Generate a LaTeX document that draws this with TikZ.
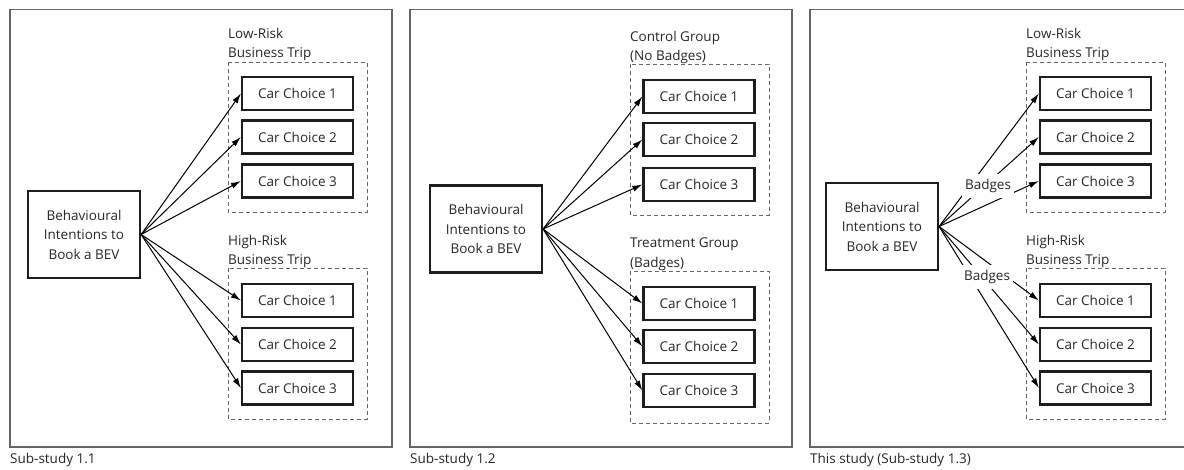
\documentclass[tikz,border=0pt]{standalone}
\usepackage{fontspec}
\setmainfont{Open Sans}
\usetikzlibrary{arrows.meta}
\definecolor{txt}{HTML}{262626}
\definecolor{strk}{HTML}{1E1E1E}
\definecolor{frame}{HTML}{666666}
\definecolor{dash}{HTML}{666666}
\begin{document}
\begin{tikzpicture}[x=1pt,y=-1pt,
  every node/.style={text=txt,font=\fontsize{13.5}{19.5}\selectfont},
  choice/.style={draw=strk,line width=2.2pt,minimum width=111pt,minimum height=33pt,inner sep=0pt},
  intent/.style={draw=strk,line width=2.2pt,minimum width=112pt,minimum height=87pt,align=center,inner sep=0pt},
  panel/.style={draw=frame,line width=1.2pt},
  group/.style={draw=dash,line width=0.9pt,dash pattern=on 4pt off 3pt},
  grouplabel/.style={anchor=north west,align=left,inner sep=0pt},
  caption/.style={anchor=base west,inner sep=0pt},
  link/.style={draw=black,line width=1pt,-{Latex[length=10pt,width=6pt]}},
  badge/.style={fill=white,inner xsep=3pt,inner ysep=5.5pt}]
\useasboundingbox (0,0) rectangle (1184,469);

% ---------- panel frames ----------
\draw[panel] (10,9.5) rectangle (392,447);
\draw[panel] (410,9.5) rectangle (792,447);
\draw[panel] (810,9.5) rectangle (1192,447);

\node[caption] (cap1) at (10,463) {Sub-study 1.1};
\node[caption] (cap2) at (410,463) {Sub-study 1.2};
\node[caption] (cap3) at (810,463) {This study (Sub-study 1.3)};

% ---------- Sub-study 1.1 ----------
\draw[group] (228,62) rectangle (367,212);
\draw[group] (228,268) rectangle (367,419);
\node[grouplabel] (g1a) at (228,28) {Low-Risk\\Business Trip};
\node[grouplabel] (g1b) at (228,235) {High-Risk\\Business Trip};
\node[intent] (bev1) at (84,234.5) {Behavioural\\Intentions to\\Book a BEV};
\node[choice] (a1) at (297.5,93.5) {Car Choice 1};
\node[choice] (a2) at (297.5,137) {Car Choice 2};
\node[choice] (a3) at (297.5,181) {Car Choice 3};
\node[choice] (b1) at (297.5,300.5) {Car Choice 1};
\node[choice] (b2) at (297.5,344.5) {Car Choice 2};
\node[choice] (b3) at (297.5,388) {Car Choice 3};
\foreach \t in {a1,a2,a3,b1,b2,b3} \draw[link] (bev1.east) -- (\t.west);

% ---------- Sub-study 1.2 ----------
\draw[group] (630,64) rectangle (769,215);
\draw[group] (630,271) rectangle (769,423);
\node[grouplabel] (g2a) at (630,31) {Control Group\\(No Badges)};
\node[grouplabel] (g2b) at (630,238) {Treatment Group\\(Badges)};
\node[intent] (bev2) at (486,229) {Behavioural\\Intentions to\\Book a BEV};
\node[choice] (c1) at (699,96.5) {Car Choice 1};
\node[choice] (c2) at (699,139.5) {Car Choice 2};
\node[choice] (c3) at (699,184.5) {Car Choice 3};
\node[choice] (d1) at (699,303.5) {Car Choice 1};
\node[choice] (d2) at (699,346.5) {Car Choice 2};
\node[choice] (d3) at (699,390.5) {Car Choice 3};
\foreach \t in {c1,c2,c3,d1,d2,d3} \draw[link] (bev2.east) -- (\t.west);

% ---------- This study (Sub-study 1.3) ----------
\draw[group] (1026,62) rectangle (1165,212);
\draw[group] (1026,268) rectangle (1165,419);
\node[grouplabel] (g3a) at (1026,28) {Low-Risk\\Business Trip};
\node[grouplabel] (g3b) at (1026,235) {High-Risk\\Business Trip};
\node[intent] (bev3) at (882,226.5) {Behavioural\\Intentions to\\Book a BEV};
\node[choice] (e1) at (1095.5,93.5) {Car Choice 1};
\node[choice] (e2) at (1095.5,137) {Car Choice 2};
\node[choice] (e3) at (1095.5,181) {Car Choice 3};
\node[choice] (f1) at (1095.5,300.5) {Car Choice 1};
\node[choice] (f2) at (1095.5,344.5) {Car Choice 2};
\node[choice] (f3) at (1095.5,388) {Car Choice 3};
\foreach \t in {e1,e2,e3,f1,f2,f3} \draw[link] (bev3.east) -- (\t.west);
% badge labels sit on top of the arrows
\node[badge] (badgeup) at (988,186) {Badges};
\node[badge] (badgedown) at (987,277) {Badges};
\end{tikzpicture}
\end{document}
